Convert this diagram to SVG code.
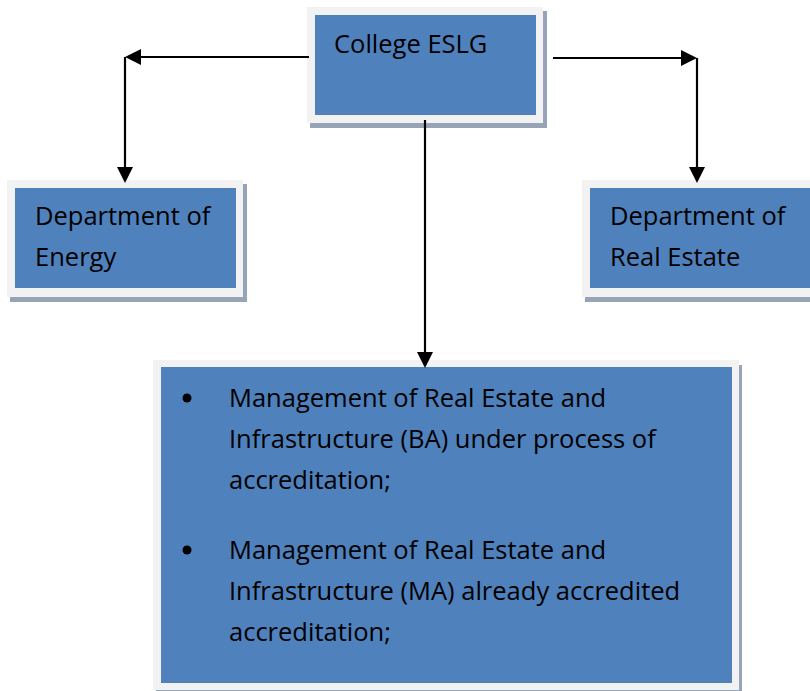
<svg xmlns="http://www.w3.org/2000/svg" width="810" height="691" viewBox="0 0 810 691">
<style>
.sh{fill:#97a3b6}
.fr{fill:#f2f2f2}
.bl{fill:#4f81bd}
.t{font-family:"Open Sans","Liberation Sans",sans-serif;font-size:25.5px;fill:#000}
.c{stroke:#000;stroke-width:2.2;fill:none}
</style>
<defs>
<marker id="ah" markerUnits="userSpaceOnUse" markerWidth="16" markerHeight="16" viewBox="0 0 16 16" refX="8" refY="8" orient="auto">
<path d="M0,0 L16,8 L0,16 z" fill="#000"/>
</marker>
</defs>
<rect width="810" height="691" fill="#fff"/>
<g id="college">
<rect class="sh" x="310" y="11" width="237" height="117"/>
<rect class="fr" x="307" y="7" width="236" height="116"/>
<rect class="bl" x="315" y="15" width="221" height="100"/>
<text class="t" x="334" y="53">College ESLG</text>
</g>
<g id="energy">
<rect class="sh" x="10" y="184" width="237" height="118"/>
<rect class="fr" x="7" y="180" width="236" height="117"/>
<rect class="bl" x="15" y="188" width="221" height="100"/>
<text class="t" x="35" y="225">Department of</text>
<text class="t" x="35" y="266">Energy</text>
</g>
<g id="realestate">
<rect class="sh" x="585" y="184" width="240" height="118"/>
<rect class="fr" x="582" y="180" width="240" height="117"/>
<rect class="bl" x="590" y="188" width="230" height="100"/>
<text class="t" x="610" y="225">Department of</text>
<text class="t" x="610" y="266">Real Estate</text>
</g>
<g id="programs">
<rect class="sh" x="156" y="365" width="586" height="335"/>
<rect class="fr" x="153" y="360" width="586" height="330"/>
<rect class="bl" x="161" y="367" width="571" height="316"/>
<circle cx="187" cy="398" r="4.5" fill="#000"/>
<text class="t" x="229" y="407">Management of Real Estate and</text>
<text class="t" x="229" y="448">Infrastructure (BA) under process of</text>
<text class="t" x="229" y="489">accreditation;</text>
<circle cx="187" cy="550" r="4.5" fill="#000"/>
<text class="t" x="229" y="559">Management of Real Estate and</text>
<text class="t" x="229" y="600">Infrastructure (MA) already accredited</text>
<text class="t" x="229" y="641">accreditation;</text>
</g>
<g id="connectors">
<path class="c" d="M309,57 H133" marker-end="url(#ah)"/>
<path class="c" d="M125,57 V175" marker-end="url(#ah)"/>
<path class="c" d="M553,58 H689" marker-end="url(#ah)"/>
<path class="c" d="M697,58 V175" marker-end="url(#ah)"/>
<path class="c" d="M425,120 V360" marker-end="url(#ah)"/>
</g>
</svg>
